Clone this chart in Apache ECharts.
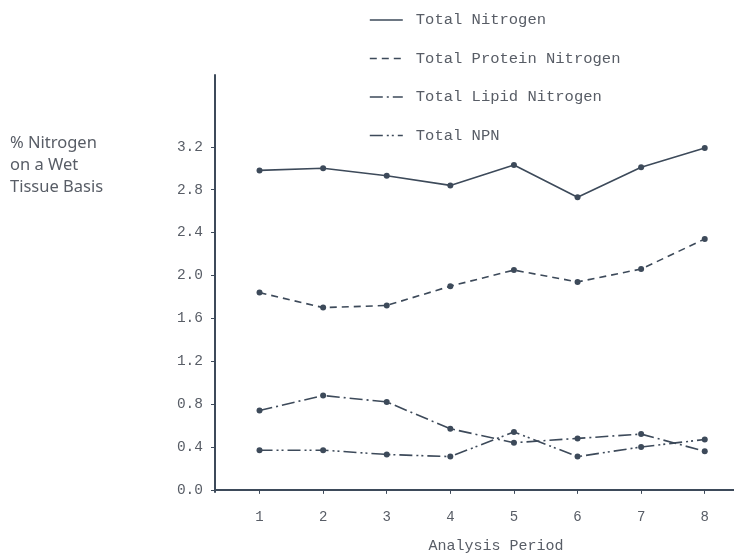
<!DOCTYPE html>
<html>
<head>
<meta charset="utf-8">
<script src="https://cdn.jsdelivr.net/npm/echarts@6/dist/echarts.min.js"></script>
<style>html,body{margin:0;padding:0;background:#fff}#c{width:734px;height:554px}</style>
</head>
<body>
<div id="c"></div>
<script>
const periods = [1, 2, 3, 4, 5, 6, 7, 8];
const totalNitrogen = [2.98, 3.00, 2.93, 2.84, 3.03, 2.73, 3.01, 3.19];
const totalProteinNitrogen = [1.84, 1.70, 1.72, 1.90, 2.05, 1.94, 2.06, 2.34];
const totalLipidNitrogen = [0.74, 0.88, 0.82, 0.57, 0.44, 0.48, 0.52, 0.36];
const totalNPN = [0.37, 0.37, 0.33, 0.31, 0.54, 0.31, 0.40, 0.47];
const yTicks = [0, 0.4, 0.8, 1.2, 1.6, 2.0, 2.4, 2.8, 3.2];
const seriesNames = ['Total Nitrogen', 'Total Protein Nitrogen', 'Total Lipid Nitrogen', 'Total NPN'];

const ink = '#3d4a5a';
const textCol = '#585d66';
const mono = '"Liberation Mono", "DejaVu Sans Mono", monospace';
const pairs = vals => periods.map((p, i) => [p, vals[i]]);
const dashes = ['solid', [7, 5], [13, 4, 2, 4], [13, 4, 2, 3, 2, 4]];
const allVals = [totalNitrogen, totalProteinNitrogen, totalLipidNitrogen, totalNPN];

const chart = echarts.init(document.getElementById('c'), null, {renderer: 'canvas'});
chart.setOption({
  animation: false,
  backgroundColor: '#fff',
  grid: {left: 215, right: 0, top: 75, bottom: 62, containLabel: false, outerBoundsMode: 'none'},
  legend: {
    orient: 'vertical', left: 364, top: 7, itemGap: 22.5, itemWidth: 33, itemHeight: 14,
    data: seriesNames,
    textStyle: {fontFamily: mono, fontSize: 15.5, color: textCol, padding: [0, 0, 0, 8]},
    itemStyle: {color: 'rgba(0,0,0,0)', borderWidth: 0},
    lineStyle: {width: 1.6, color: ink}
  },
  xAxis: {
    type: 'value', min: 0.3, max: 8.46,
    name: 'Analysis Period', nameLocation: 'middle', nameGap: 47,
    nameTextStyle: {fontFamily: mono, fontSize: 15, color: textCol, padding: [0, 0, 0, 43]},
    axisLine: {show: true, lineStyle: {color: ink, width: 2}},
    axisTick: {show: true, length: 4, inside: false, customValues: periods, lineStyle: {color: ink, width: 1}},
    axisLabel: {customValues: periods, fontFamily: mono, fontSize: 14, color: textCol, margin: 18},
    splitLine: {show: false}
  },
  yAxis: {
    type: 'value', min: -0.02, max: 3.87,
    axisLine: {show: true, lineStyle: {color: ink, width: 2}},
    axisTick: {show: true, length: 4, customValues: yTicks, lineStyle: {color: ink, width: 1}},
    axisLabel: {customValues: yTicks, formatter: v => v.toFixed(1), fontFamily: mono, fontSize: 14.5, color: textCol, margin: 12},
    splitLine: {show: false}
  },
  graphic: [{
    type: 'text', left: 10, top: 132,
    style: {text: '% Nitrogen\non a Wet\nTissue Basis', font: '16.5px "Noto Sans", sans-serif', lineHeight: 22, fill: textCol}
  }],
  series: seriesNames.map((n, i) => ({
    name: n, type: 'line', data: pairs(allVals[i]),
    symbol: 'circle', symbolSize: 6,
    itemStyle: {color: ink},
    lineStyle: {color: ink, width: 1.6, type: dashes[i]}
  }))
});
</script>
</body>
</html>
